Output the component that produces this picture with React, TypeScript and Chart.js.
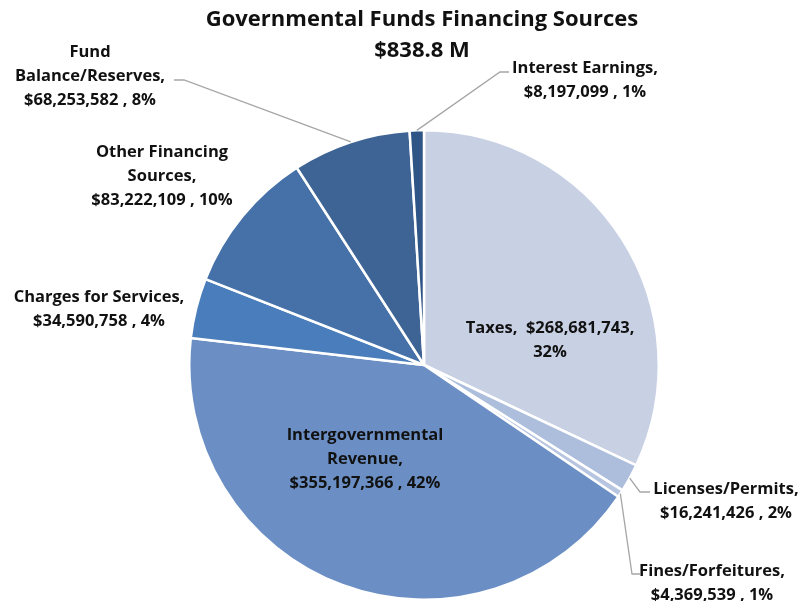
import React, { useEffect, useRef } from "react";
import { Chart, registerables } from "chart.js";

Chart.register(...registerables);

const categories = [
  "Taxes",
  "Licenses/Permits",
  "Fines/Forfeitures",
  "Intergovernmental Revenue",
  "Charges for Services",
  "Other Financing Sources",
  "Fund Balance/Reserves",
  "Interest Earnings",
];
const values = [268681743, 16241426, 4369539, 355197366, 34590758, 83222109, 68253582, 8197099];
const percents = ["32%", "2%", "1%", "42%", "4%", "10%", "8%", "1%"];
const colors = ["#c8d0e4", "#adbedd", "#b7c5e1", "#6b8fc4", "#4a7dbb", "#4571a8", "#3e6495", "#2f5587"];
const titleLines = ["Governmental Funds Financing Sources", "$838.8 M"];

// label text lines (rendered as text)
const labelLines = [
  ["Taxes,  $268,681,743,", "32%"],
  ["Licenses/Permits,", "$16,241,426 , 2%"],
  ["Fines/Forfeitures,", "$4,369,539 , 1%"],
  ["Intergovernmental", "Revenue,", "$355,197,366 , 42%"],
  ["Charges for Services,", "$34,590,758 , 4%"],
  ["Other Financing", "Sources,", "$83,222,109 , 10%"],
  ["Fund", "Balance/Reserves,", "$68,253,582 , 8%"],
  ["Interest Earnings,", "$8,197,099 , 1%"],
];
// label layout: center x, first-line y
const labelPos = [
  [550, 328],
  [726, 489],
  [712, 571],
  [365, 435],
  [99, 297],
  [162, 152],
  [90, 52],
  [585, 68],
];
// leader lines: [elbowX, elbowY, endX] or null
const leaders: (number[] | null)[] = [
  null,
  [640, 492, 650],
  [632, 574, 640],
  null,
  null,
  null,
  [184, 80, 174],
  [500, 72, 509],
];

export default function App() {
  const ref = useRef<HTMLCanvasElement>(null);
  useEffect(() => {
    document.body.style.margin = "0";
    const labelPlugin = {
      id: "labels",
      afterDraw(chart: any) {
        const ctx = chart.ctx;
        ctx.save();
        ctx.textAlign = "center";
        ctx.textBaseline = "middle";
        ctx.fillStyle = "#111";
        ctx.font = "bold 22px 'Open Sans'";
        ctx.fillText(titleLines[0], 422, 20);
        ctx.fillText(titleLines[1], 422, 51);
        const meta = chart.getDatasetMeta(0);
        ctx.font = "bold 16.5px 'Open Sans'";
        ctx.strokeStyle = "#a6a6a6";
        ctx.lineWidth = 1.3;
        labelLines.forEach((lines, i) => {
          const [cx, y0] = labelPos[i];
          lines.forEach((t, j) => ctx.fillText(t, cx, y0 + j * 24));
          const ld = leaders[i];
          if (ld) {
            const arc = meta.data[i];
            const mid = (arc.startAngle + arc.endAngle) / 2;
            const r = arc.outerRadius;
            const ax = arc.x + Math.cos(mid) * r;
            const ay = arc.y + Math.sin(mid) * r;
            ctx.beginPath();
            ctx.moveTo(ax, ay);
            ctx.lineTo(ld[0], ld[1]);
            ctx.lineTo(ld[2], ld[1]);
            ctx.stroke();
          }
        });
        ctx.restore();
      },
    };
    const chart = new Chart(ref.current!, {
      type: "pie",
      data: {
        labels: categories,
        datasets: [
          {
            data: values,
            backgroundColor: colors,
            borderColor: "#ffffff",
            borderWidth: 2.5,
          },
        ],
      },
      options: {
        responsive: false,
        animation: false,
        layout: { padding: { top: 129, bottom: 0, left: 188, right: 143 } },
        plugins: {
          legend: { display: false },
          tooltip: { enabled: false },
          title: { display: false },
        },
      },
      plugins: [labelPlugin],
    });
    return () => chart.destroy();
  }, []);
  return (
    <div style={{ width: 803, height: 601, background: "#fff" }}>
      <canvas ref={ref} width={803} height={601} />
    </div>
  );
}
